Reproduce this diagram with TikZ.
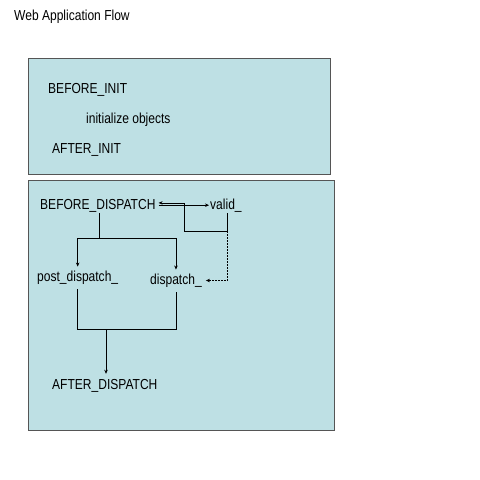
\documentclass[tikz,border=0pt]{standalone}
\usepackage{fontspec}
\setmainfont{Liberation Sans}
\usetikzlibrary{arrows.meta,calc}
\definecolor{panel}{RGB}{190,224,228}
\definecolor{edge}{RGB}{85,85,85}
\newcommand{\narrowtxt}[1]{\scalebox{0.83}[1]{#1}}
\tikzset{
  panelbox/.style={draw=edge,fill=panel,line width=0.8pt},
  lbl/.style={inner sep=0pt,anchor=west,yshift=-1.5pt,font=\fontsize{14.5}{16}\selectfont},
  conn/.style={draw=black,line width=0.6pt},
  tip/.style={-{Stealth[length=4pt,width=3.5pt]}},
  dotconn/.style={conn,dash pattern=on 1.5pt off 1.5pt}
}
\begin{document}
\begin{tikzpicture}[x=1pt,y=-1pt]
\useasboundingbox[fill=white] (0,0) rectangle (480,480);
\node[lbl] (title) at (14,15) {\narrowtxt{Web Application Flow}};
\path[panelbox] (28,58) rectangle (330,174);
\path[panelbox] (28,180) rectangle (334,430);
\node[lbl] (binit) at (48,88) {\narrowtxt{BEFORE\_INIT}};
\node[lbl] (init) at (86,118) {\narrowtxt{initialize objects}};
\node[lbl] (ainit) at (52,148) {\narrowtxt{AFTER\_INIT}};
\node[lbl] (bd) at (40,204) {\narrowtxt{BEFORE\_DISPATCH}};
\node[lbl] (valid) at (210,204) {\narrowtxt{valid\_}};
\node[lbl] (post) at (37,276) {\narrowtxt{post\_dispatch\_}};
\node[lbl] (disp) at (150,279) {\narrowtxt{dispatch\_}};
\node[lbl] (ad) at (52,384) {\narrowtxt{AFTER\_DISPATCH}};
\coordinate (vb) at (227,231);
\coordinate (vl) at (184,231);
\coordinate (split) at (99,238);
\coordinate (join) at (106,329);
% BEFORE_DISPATCH -> valid_
\draw[conn,tip] ([xshift=3pt,yshift=0.3pt]bd.east) -- ([xshift=-1pt,yshift=0.3pt]valid.west);
% valid_ -> BEFORE_DISPATCH (return loop)
\draw[conn,tip] ([yshift=-1pt]valid.south -| vb) -- (vb) -- (vl) -- ([yshift=2.6pt]vl |- bd.east) -- ([xshift=3pt,yshift=2.6pt]bd.east);
% valid_ -> dispatch_ (dotted)
\draw[dotconn,tip] (vb) |- ([xshift=4pt]disp.east);
% BEFORE_DISPATCH -> post_dispatch_ and dispatch_
\draw[conn] ([yshift=-1pt]bd.south -| split) -- (split);
\draw[conn,tip] (split) -| ([yshift=4pt]post.north);
\draw[conn,tip] (split) -| ([yshift=4pt]disp.north);
% post_dispatch_ and dispatch_ -> AFTER_DISPATCH
\draw[conn] ([yshift=-5pt]post.south) |- (join);
\draw[conn] ([yshift=-5pt]disp.south) |- (join);
\draw[conn,tip] (join) -- ([yshift=5pt]ad.north -| join);
\end{tikzpicture}
\end{document}
